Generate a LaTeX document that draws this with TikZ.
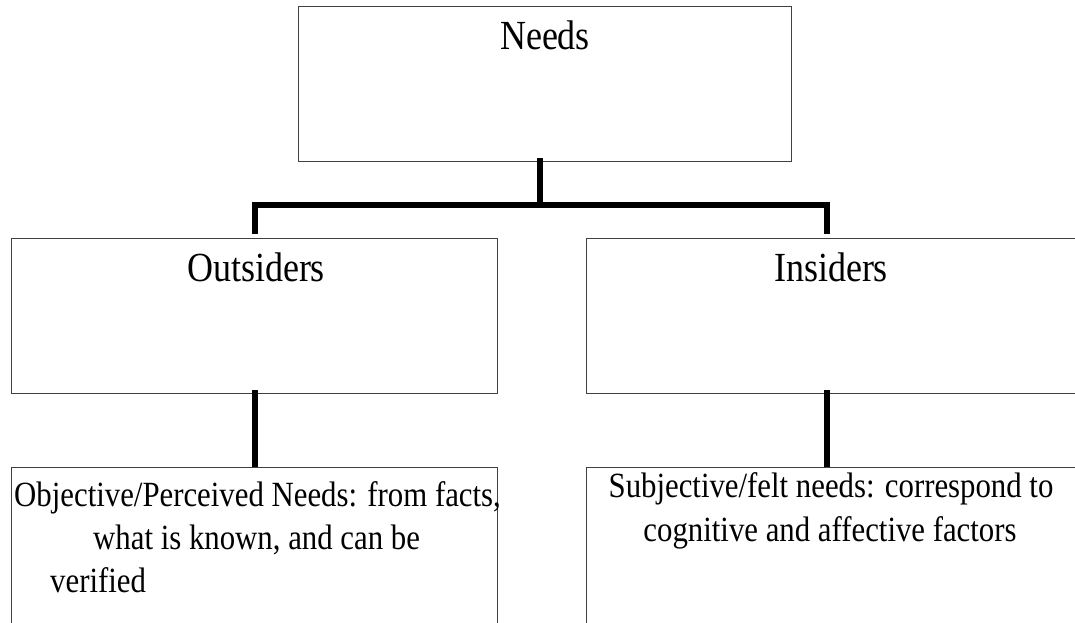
\documentclass[tikz,border=0pt]{standalone}
\usepackage{fontspec}
\setmainfont{Liberation Serif}
\usetikzlibrary{calc}
\newcommand{\tall}[1]{\scalebox{1}[1.15]{#1}}
\begin{document}
\begin{tikzpicture}[x=1pt,y=-1pt,
  box/.style={draw=black!75, line width=1.3pt, rectangle, inner sep=0pt, anchor=north west},
  conn/.style={line width=6pt, black, line join=miter},
  head/.style={font=\fontsize{36}{40}\selectfont, anchor=base, inner sep=0pt},
  bodyw/.style={font=\fontsize{30.8}{42}\selectfont, anchor=base west, inner sep=0pt},
  bodyc/.style={font=\fontsize{30.8}{42}\selectfont, anchor=base, inner sep=0pt}]
\useasboundingbox (0,0) rectangle (1075,623);
\clip (0,0) rectangle (1075,623);

% boxes
\node[box, minimum width=493pt, minimum height=155pt] (needs) at (298,6) {};
\node[box, minimum width=486pt, minimum height=155pt] (outs) at (11,238) {};
\node[box, minimum width=500pt, minimum height=155pt] (ins) at (586,238) {};
\node[box, minimum width=486pt, minimum height=170pt] (obj) at (11,467) {};
\node[box, minimum width=500pt, minimum height=170pt] (subj) at (586,467) {};

% headings
\node[head] (needsT) at (545,50) {\tall{Needs}};
\node[head] (outsT) at (256,281) {\tall{Outsiders}};
\node[head] (insT) at (831,281) {\tall{Insiders}};

% descriptions
\node[bodyw] (obj1) at (14,506) {\tall{Objective/Perceived Needs: from facts,}};
\node[bodyw] (obj2) at (93,549) {\tall{what is known, and can be}};
\node[bodyw] (obj3) at (50,592) {\tall{verified}};
\node[bodyc] (subj1) at (831,497) {\tall{Subjective/felt needs: correspond to}};
\node[bodyc] (subj2) at (830,541) {\tall{cognitive and affective factors}};

% connectors
\coordinate (bus) at (540,205);
\coordinate (insTop) at ([shift={(241,-4)}]ins.north west);
\coordinate (insBot) at ([shift={(241,-4)}]ins.south west);
\coordinate (subjTop) at ([shift={(241,0)}]subj.north west);
\draw[conn] ([yshift=4pt]bus |- needs.south) -- (bus);
\draw[conn] ([yshift=4pt]outs.north) |- (bus) -| (insTop);
\draw[conn] ([yshift=4pt]outs.south) -- (obj.north);
\draw[conn] (insBot) -- (subjTop);
\end{tikzpicture}
\end{document}
